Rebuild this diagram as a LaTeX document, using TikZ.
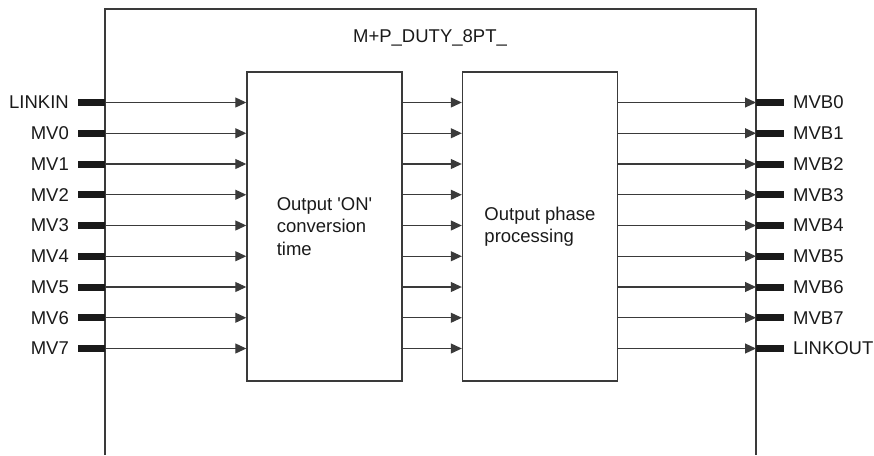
\documentclass[tikz,border=0pt]{standalone}
\usepackage{fontspec}
\setmainfont{Liberation Sans}
\usetikzlibrary{arrows.meta, positioning}
\definecolor{wire}{HTML}{3A3A3A}
\definecolor{ink}{HTML}{1A1A1A}

\begin{document}
\begin{tikzpicture}[x=1pt, y=-1pt,
                font=\fontsize{18.5}{22.5}\selectfont, text=ink,
                blk/.style={draw=wire, line width=1.4pt, align=left, inner sep=0pt,
                    minimum width=155pt, minimum height=309pt},
                frame/.style={draw=wire, line width=1.6pt},
                arr/.style={-{Triangle[length=11pt, width=10pt]}, line width=1.1pt, draw=wire},
                pin/.style={line width=7pt, draw=ink},
                lbl/.style={inner sep=0pt}]
                \useasboundingbox (0,0) rectangle (874,455);
                \draw[frame] (105,455) -- (105,9) -- (756,9) -- (756,455);
                \node[lbl] (title) at (430,38) {M+P\_DUTY\_8PT\_};
                \node[blk] (conv) at (324.5,226.5) {Output \textquotesingle ON\textquotesingle\\conversion\\time};
                \node[blk] (phase) at (540,226.5) {Output phase\\processing};
                \foreach \inname/\outname [count=\i from 0] in {LINKIN/MVB0, MV0/MVB1, MV1/MVB2,
                    MV2/MVB3, MV3/MVB4, MV4/MVB5, MV5/MVB6, MV6/MVB7, MV7/LINKOUT} {
                    \coordinate (pinL\i) at (78, 102.5+30.75*\i);
                    \coordinate (inp\i) at (105, 102.5+30.75*\i);
                    \coordinate (outp\i) at (756, 102.5+30.75*\i);
                    \coordinate (pinR\i) at (784, 102.5+30.75*\i);
                    \node[lbl, anchor=east] (inlbl\i) at (69, 102.5+30.75*\i) {\inname};
                    \node[lbl, anchor=west] (outlbl\i) at (793, 102.5+30.75*\i) {\outname};
                    \draw[pin] (pinL\i) -- (inp\i);
                    \draw[pin] (outp\i) -- (pinR\i);
                    \draw[arr] (inp\i) -- (conv.west |- inp\i);
                    \draw[arr] (conv.east |- inp\i) -- (phase.west |- inp\i);
                    \draw[arr] (phase.east |- inp\i) -- (outp\i);
                }
            \end{tikzpicture}
\end{document}
